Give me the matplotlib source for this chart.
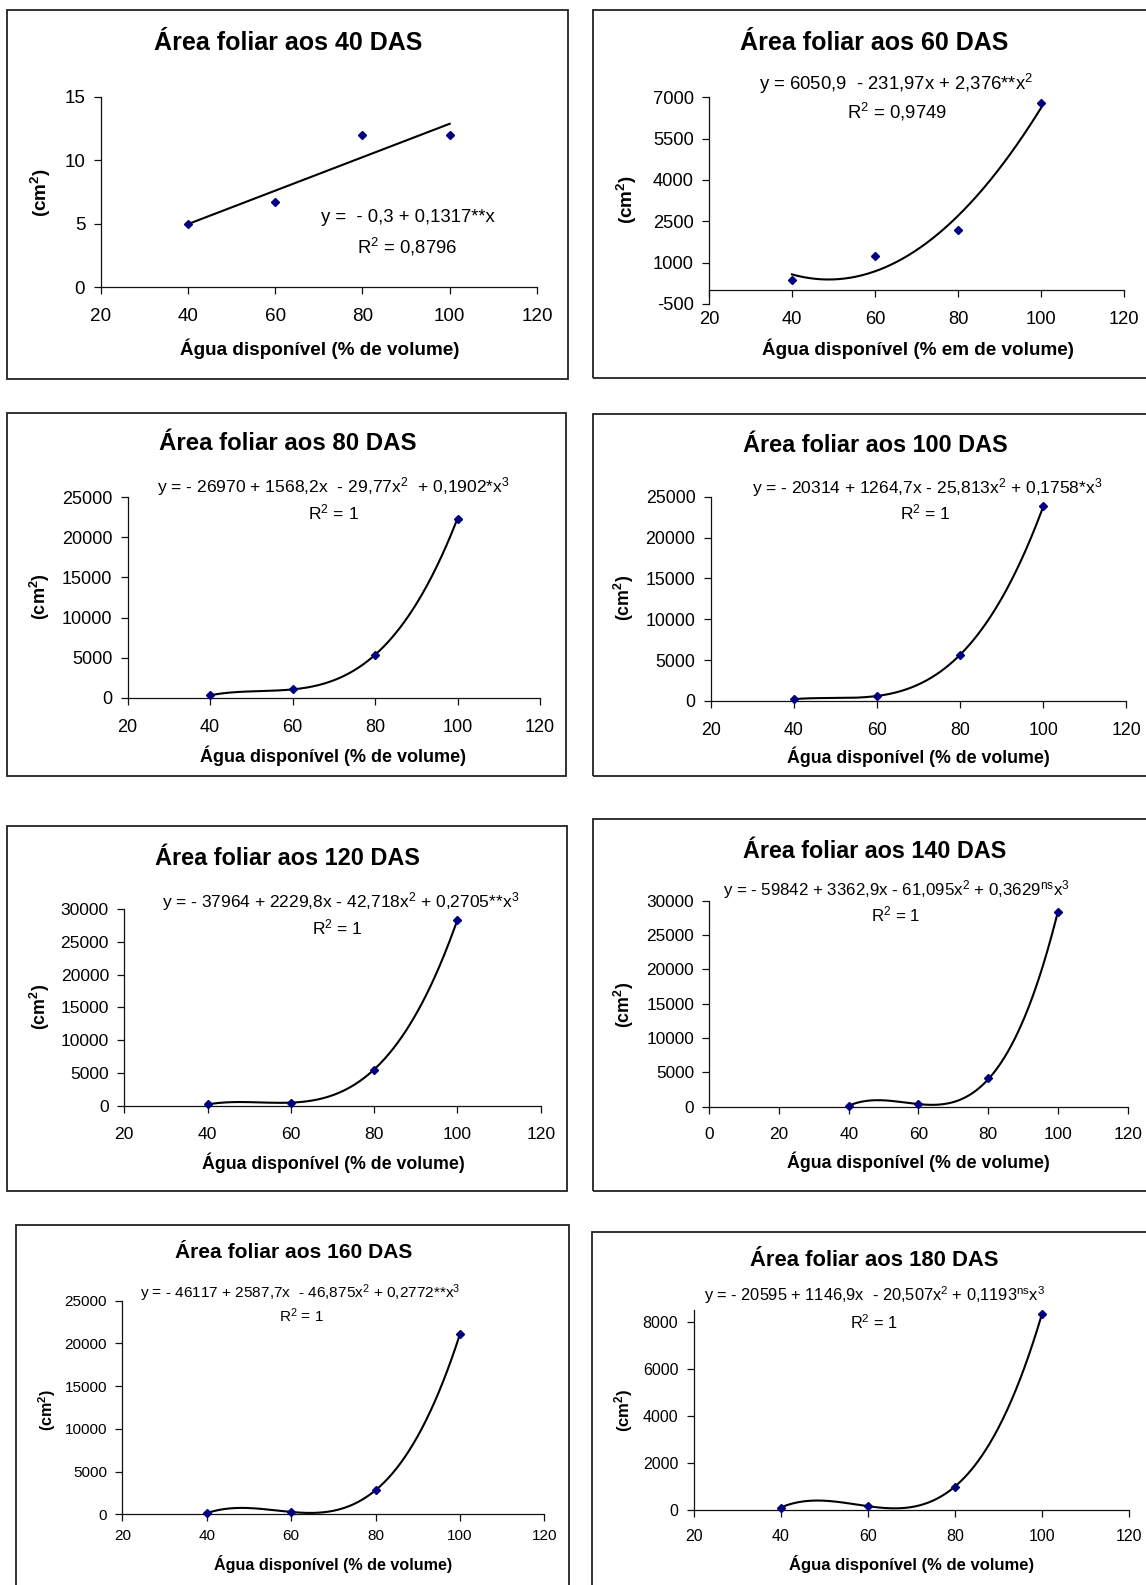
import numpy as np
import matplotlib
matplotlib.use("Agg")
import matplotlib.pyplot as plt
from matplotlib.patches import Rectangle

plt.rcParams['font.family'] = ['Liberation Sans', 'DejaVu Sans']
plt.rcParams['mathtext.fontset'] = 'custom'
plt.rcParams['mathtext.rm'] = 'Liberation Sans'
plt.rcParams['mathtext.bf'] = 'Liberation Sans:bold'
plt.rcParams['mathtext.it'] = 'Liberation Sans:italic'
plt.rcParams['axes.unicode_minus'] = False

# ---------------- data ----------------
x_levels = [40, 60, 80, 100]

area_40 = [5.0, 6.7, 12.0, 12.0]
area_60 = [380, 1230, 2200, 6780]
area_80 = [300, 1030, 5340, 22350]
area_100 = [224, 614, 5670, 23830]
area_120 = [190, 470, 5520, 28340]
area_140 = [150, 380, 4190, 28400]
area_160 = [130, 270, 2830, 21100]
area_180 = [105, 163, 994, 8325]

# trendline coefficients (highest power first), as printed on the chart
coef_40 = [0.1317, -0.3]
coef_60 = [2.376, -231.97, 6050.9]
coef_80 = [0.1902, -29.77, 1568.2, -26970]
coef_100 = [0.1758, -25.813, 1264.7, -20314]
coef_120 = [0.2705, -42.718, 2229.8, -37964]
coef_140 = [0.3629, -61.095, 3362.9, -59842]
coef_160 = [0.2772, -46.875, 2587.7, -46117]
coef_180 = [0.1193, -20.507, 1146.9, -20595]

titles = ["Área foliar aos 40 DAS", "Área foliar aos 60 DAS", "Área foliar aos 80 DAS",
          "Área foliar aos 100 DAS", "Área foliar aos 120 DAS", "Área foliar aos 140 DAS",
          "Área foliar aos 160 DAS", "Área foliar aos 180 DAS"]

equations = [
    "y =  - 0,3 + 0,1317**x",
    "y = 6050,9  - 231,97x + 2,376**x$^2$",
    "y = - 26970 + 1568,2x  - 29,77x$^2$  + 0,1902*x$^3$",
    "y = - 20314 + 1264,7x - 25,813x$^2$ + 0,1758*x$^3$",
    "y = - 37964 + 2229,8x - 42,718x$^2$ + 0,2705**x$^3$",
    "y = - 59842 + 3362,9x - 61,095x$^2$ + 0,3629$^{\\mathrm{ns}}$x$^3$",
    "y = - 46117 + 2587,7x  - 46,875x$^2$ + 0,2772**x$^3$",
    "y = - 20595 + 1146,9x  - 20,507x$^2$ + 0,1193$^{\\mathrm{ns}}$x$^3$",
]
r2_texts = ["R$^2$ = 0,8796", "R$^2$ = 0,9749", "R$^2$ = 1", "R$^2$ = 1",
            "R$^2$ = 1", "R$^2$ = 1", "R$^2$ = 1", "R$^2$ = 1"]

xlabels = ["Água disponível (% de volume)", "Água disponível (% em de volume)"] + \
          ["Água disponível (% de volume)"] * 6
ylabel = "(cm$^\\mathbf{2}$)"

xticks_std = [20, 40, 60, 80, 100, 120]
xticks_140 = [0, 20, 40, 60, 80, 100, 120]
yticks_40 = [0, 5, 10, 15]
yticks_60 = [-500, 1000, 2500, 4000, 5500, 7000]
yticks_25k = [0, 5000, 10000, 15000, 20000, 25000]
yticks_30k = [0, 5000, 10000, 15000, 20000, 25000, 30000]
yticks_180 = [0, 2000, 4000, 6000, 8000]

series = [area_40, area_60, area_80, area_100, area_120, area_140, area_160, area_180]
coefs = [coef_40, coef_60, coef_80, coef_100, coef_120, coef_140, coef_160, coef_180]
xticks_all = [xticks_std] * 5 + [xticks_140] + [xticks_std] * 2
yticks_all = [yticks_40, yticks_60, yticks_25k, yticks_25k, yticks_30k, yticks_30k, yticks_25k, yticks_180]
ylims = [(0, 15), (-500, 7000), (0, 25000), (0, 25000), (0, 30000), (0, 30000), (0, 25000), (0, 8500)]

# ---------------- layout (pixels, from top-left) ----------------
W, H = 1146, 1585
layout = [
    dict(box=(7, 10, 568, 379), ax=(100.5, 537, 96.7, 287.3), title=(288, 42.5), eq=(408, 218), r2=(407, 247),
         xl=(320, 349), yl=(41, 193), fs_t=18, fs_tick=13.6, fs_eq=13.3, fs_lab=13.6, xpad=10),
    dict(box=(593, 10, 1152, 378), ax=(709, 1124, 97.3, 304), title=(874, 42.5), eq=(896, 84.3), r2=(897, 112.2),
         xl=(918, 349), yl=(627, 200), fs_t=18, fs_tick=13.2, fs_eq=13.3, fs_lab=13.6, xpad=10),
    dict(box=(7, 412.7, 566, 776), ax=(127.5, 540, 497.3, 697.7), title=(288, 443.7), eq=(333, 486.5),
         r2=(333, 512.5), xl=(333.5, 756), yl=(39.5, 596.7), fs_t=17.3, fs_tick=13, fs_eq=12.6, fs_lab=13,
         xpad=10),
    dict(box=(593, 414, 1152, 776), ax=(710.7, 1126.5, 496.7, 701), title=(875, 445), eq=(927, 487.5),
         r2=(925, 512.5), xl=(918, 756.5), yl=(624, 598), fs_t=16.9, fs_tick=12.8, fs_eq=12.5, fs_lab=12.8,
         xpad=10),
    dict(box=(7, 826, 567.4, 1190.7), ax=(124.2, 540.7, 909, 1105.7), title=(287.7, 858.7), eq=(340.5, 901.5),
         r2=(337.5, 927.2), xl=(333, 1163), yl=(39.5, 1006.7), fs_t=16.9, fs_tick=12.6, fs_eq=12.5, fs_lab=12.8,
         xpad=10),
    dict(box=(593, 819.3, 1152, 1191), ax=(709.3, 1127.6, 900.7, 1106.7), title=(875, 852), eq=(896.6, 889.5),
         r2=(895.6, 914), xl=(918, 1162), yl=(624, 1005), fs_t=16.8, fs_tick=12.4, fs_eq=12.2, fs_lab=12.8,
         xpad=9.5),
    dict(box=(16.4, 1225, 569.3, 1595), ax=(122.4, 544.4, 1300.7, 1514.3), title=(293.4, 1252.3),
         eq=(300, 1293.3), r2=(301, 1316), xl=(333.4, 1564), yl=(46.8, 1410), fs_t=15.1, fs_tick=11,
         fs_eq=11.1, fs_lab=11.6, xpad=5.5),
    dict(box=(592.3, 1232.3, 1152, 1595), ax=(693.6, 1129, 1310, 1510), title=(874.4, 1261), eq=(875, 1295),
         r2=(874, 1322.3), xl=(911.5, 1564), yl=(624, 1410), fs_t=15.8, fs_tick=11.5, fs_eq=11.8, fs_lab=12,
         xpad=8.5),
]

fig = plt.figure(figsize=(W / 100, H / 100), dpi=100)
fig.patch.set_facecolor('white')


def fx(x):
    return x / W


def fy(y):
    return 1 - y / H


for i in range(8):
    L = layout[i]
    # panel frame
    l, t, r, b = L['box']
    fig.add_artist(Rectangle((fx(l), fy(b)), (r - l) / W, (b - t) / H, transform=fig.transFigure,
                             fill=False, lw=1.3, ec='#222222'))
    x0, x1, yt, yb = L['ax']
    ax = fig.add_axes([fx(x0), fy(yb), (x1 - x0) / W, (yb - yt) / H])
    ax.patch.set_alpha(0)
    xt = xticks_all[i]
    yt_ = yticks_all[i]
    ax.set_xlim(xt[0], xt[-1])
    ax.set_ylim(*ylims[i])
    ax.set_xticks(xt)
    ax.set_xticklabels([str(v) for v in xt])
    ax.set_yticks(yt_)
    ax.set_yticklabels([str(v) for v in yt_])
    for s in ('top', 'right'):
        ax.spines[s].set_visible(False)
    ax.spines['bottom'].set_position(('data', 0))
    for s in ('left', 'bottom'):
        ax.spines[s].set_linewidth(0.9)
        ax.spines[s].set_color('#111111')
    ax.tick_params(axis='both', direction='out', length=5, width=0.9, color='#111111',
                   labelsize=L['fs_tick'], labelcolor='black')
    ax.tick_params(axis='x', pad=L['xpad'])
    ax.tick_params(axis='y', pad=6)

    xs = np.linspace(40, 100, 300)
    ax.plot(xs, np.polyval(coefs[i], xs), color='black', lw=1.5, zorder=2, clip_on=False)
    ax.plot(x_levels, series[i], linestyle='none', marker='D', markersize=3.8,
            color='#000080', markeredgecolor='#000080', zorder=3, clip_on=False)

    fig.text(fx(L['title'][0]), fy(L['title'][1]), titles[i], ha='center', va='center',
             fontsize=L['fs_t'], fontweight='bold')
    fig.text(fx(L['eq'][0]), fy(L['eq'][1]), equations[i], ha='center', va='center', fontsize=L['fs_eq'])
    fig.text(fx(L['r2'][0]), fy(L['r2'][1]), r2_texts[i], ha='center', va='center', fontsize=L['fs_eq'])
    fig.text(fx(L['xl'][0]), fy(L['xl'][1]), xlabels[i], ha='center', va='center',
             fontsize=L['fs_lab'], fontweight='bold')
    fig.text(fx(L['yl'][0]), fy(L['yl'][1]), ylabel, ha='center', va='center', rotation=90,
             fontsize=L['fs_lab'], fontweight='bold')

fig.savefig('out.png', dpi=100, facecolor='white')
